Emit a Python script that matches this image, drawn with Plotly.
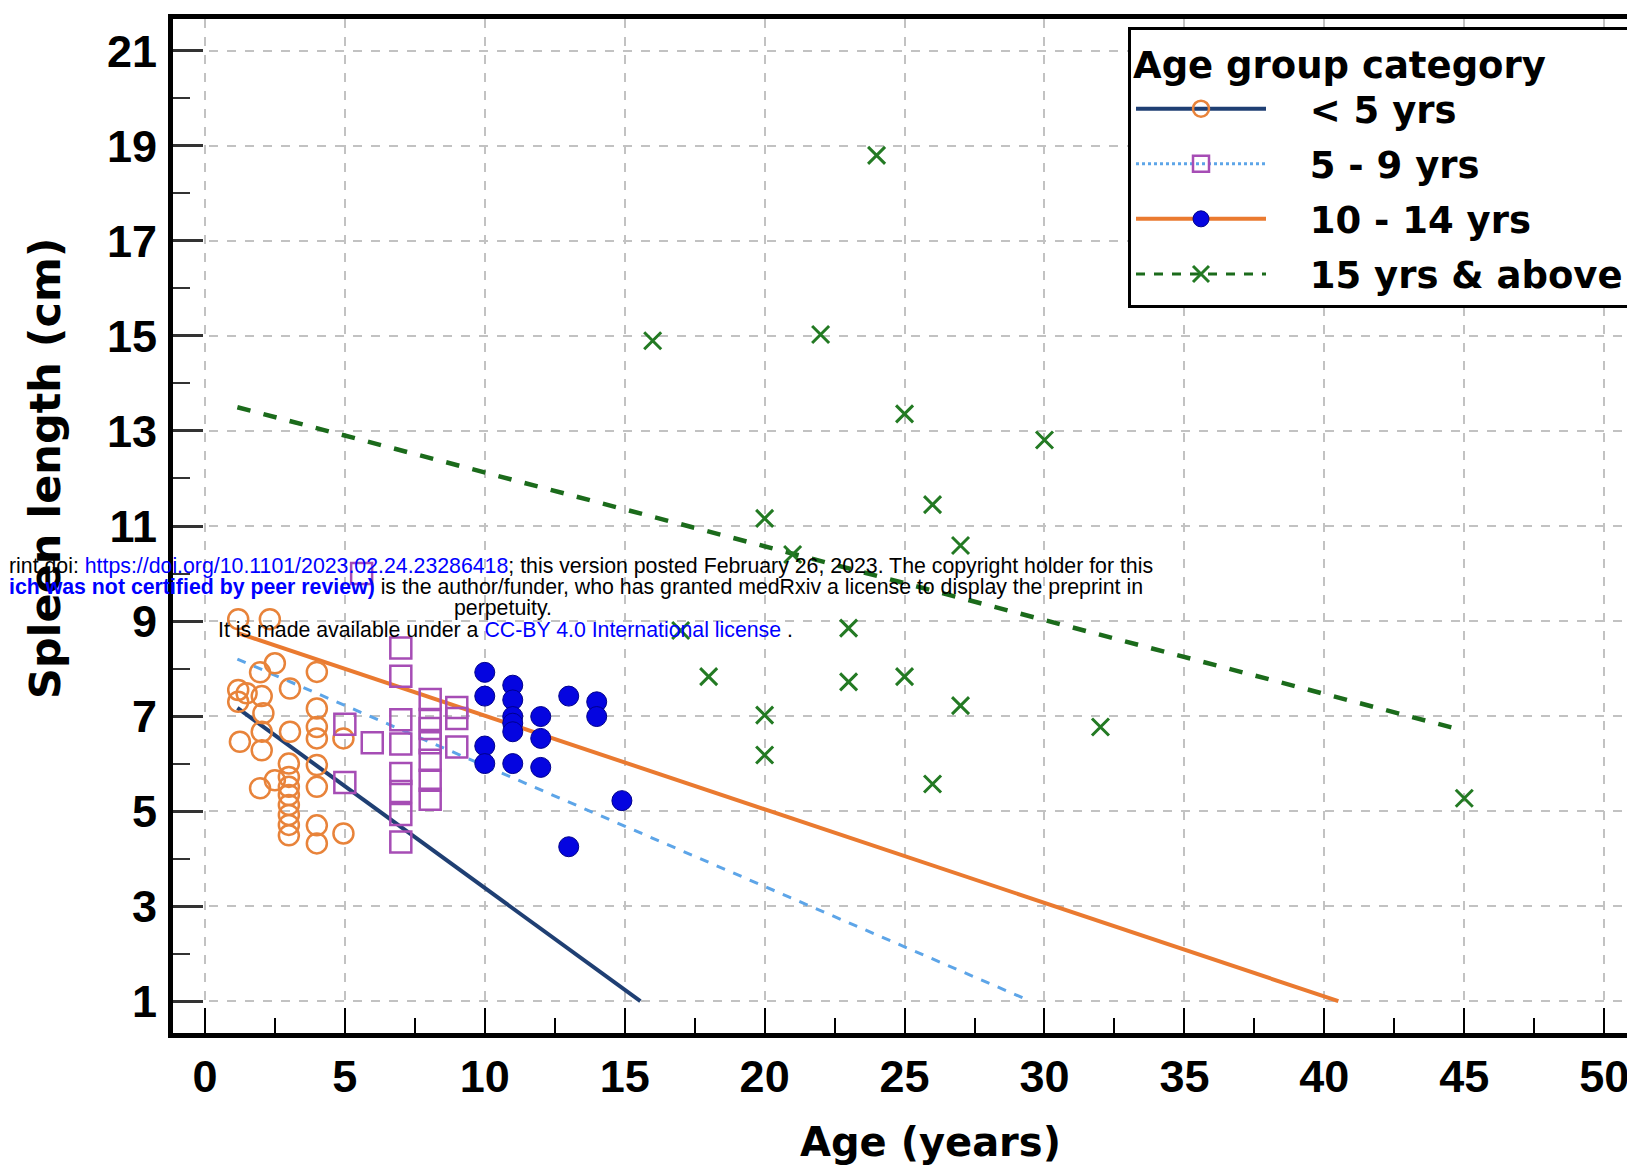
import plotly.graph_objects as go

# ---------------- data ----------------
group_names = ["< 5 yrs", "5 - 9 yrs", "10 - 14 yrs", "15 yrs & above"]

lt5_age = [1.19, 2.32, 2.5, 1.97, 4.0, 3.04, 1.19, 1.49, 2.03, 1.19, 2.09, 2.03, 1.25, 3.04,
           2.03, 3.0, 3.0, 3.0, 3.0, 3.0, 3.0, 3.0, 3.0, 1.97, 2.5, 4.95, 4.0, 4.0, 4.0, 4.0,
           4.0, 4.0, 4.95, 4.0]
lt5_spleen = [9.04, 9.04, 8.11, 7.92, 7.93, 7.58, 7.55, 7.48, 7.42, 7.3, 7.06, 6.67, 6.46, 6.67,
              6.28, 6.0, 5.72, 5.51, 5.34, 5.13, 4.92, 4.71, 4.49, 5.48, 5.65, 4.53, 5.51, 4.7,
              4.32, 6.53, 6.77, 7.16, 6.53, 5.97]

g5_9_age = [5.0, 5.0, 5.98, 5.6, 7.0, 7.0, 7.0, 7.0, 7.0, 7.0, 7.0, 7.0, 8.05, 8.05, 8.05,
            8.05, 8.05, 8.05, 8.05, 9.0, 9.0, 9.0]
g5_9_spleen = [6.83, 5.6, 6.44, 10.0, 8.43, 7.84, 6.92, 6.41, 5.79, 5.41, 4.93, 4.35, 7.35,
               6.93, 6.74, 6.44, 6.07, 5.65, 5.25, 7.18, 6.95, 6.35]

g10_14_age = [10, 10, 10, 10, 11, 11, 11, 11, 11, 11, 12, 12, 12, 13, 13, 14, 14, 14.9]
g10_14_spleen = [7.92, 7.42, 6.37, 6.0, 7.65, 7.34, 6.99, 6.85, 6.67, 6.0, 6.99, 6.53, 5.92,
                 7.42, 4.25, 7.30, 6.99, 5.22]

g15_age = [16, 17, 18, 20, 20, 20, 21, 22, 23, 23, 24, 25, 25, 26, 26, 27, 27, 30, 32, 45]
g15_spleen = [14.9, 8.8, 7.83, 11.16, 7.02, 6.18, 10.4, 15.03, 8.85, 7.72, 18.8, 13.36, 7.83,
              11.45, 5.57, 10.59, 7.22, 12.81, 6.77, 5.27]

# fitted regression lines (start / end points)
fit_lt5_x, fit_lt5_y = [1.16, 15.56], [7.17, 1.0]
fit_5_9_x, fit_5_9_y = [1.16, 29.5], [8.2, 1.0]
fit_10_14_x, fit_10_14_y = [1.16, 40.5], [8.75, 1.0]
fit_15_x, fit_15_y = [1.16, 45.0], [13.5, 6.69]

x_ticks = [0, 5, 10, 15, 20, 25, 30, 35, 40, 45, 50]
y_ticks = [1, 3, 5, 7, 9, 11, 13, 15, 17, 19, 21]

# ---------------- styles ----------------
ORANGE_M = "#E8833A"
PURPLE_M = "#A64DB5"
BLUE_M = "#0505E0"
GREEN_M = "#237A23"
NAVY_L = "#1F3F73"
LBLUE_L = "#5DA5E8"
ORANGE_L = "#EA7A30"
GREEN_L = "#1B6B1B"

TITLE_FONT = "DejaVu Sans"
TICK_FONT = "Liberation Sans"

fig = go.Figure()

# fitted lines
fig.add_trace(go.Scatter(x=fit_lt5_x, y=fit_lt5_y, mode="lines",
                         line=dict(color=NAVY_L, width=4), showlegend=False, hoverinfo="skip"))
fig.add_trace(go.Scatter(x=fit_5_9_x, y=fit_5_9_y, mode="lines",
                         line=dict(color=LBLUE_L, width=3, dash="dash"), showlegend=False, hoverinfo="skip"))
fig.add_trace(go.Scatter(x=fit_10_14_x, y=fit_10_14_y, mode="lines",
                         line=dict(color=ORANGE_L, width=4), showlegend=False, hoverinfo="skip"))
fig.add_trace(go.Scatter(x=fit_15_x, y=fit_15_y, mode="lines",
                         line=dict(color=GREEN_L, width=4.5, dash="dash"), showlegend=False, hoverinfo="skip"))

# scatter points
m_lt5 = dict(symbol="circle-open", size=20, color=ORANGE_M, line=dict(width=2.5, color=ORANGE_M))
m_5_9 = dict(symbol="square-open", size=21, color=PURPLE_M, line=dict(width=2.5, color=PURPLE_M))
m_10_14 = dict(symbol="circle", size=20, color=BLUE_M, line=dict(width=1, color="#00008B"))
m_15 = dict(symbol="x-thin-open", size=17, color=GREEN_M, line=dict(width=3, color=GREEN_M))

fig.add_trace(go.Scatter(x=lt5_age, y=lt5_spleen, mode="markers", marker=m_lt5, showlegend=False))
fig.add_trace(go.Scatter(x=g5_9_age, y=g5_9_spleen, mode="markers", marker=m_5_9, showlegend=False))
fig.add_trace(go.Scatter(x=g10_14_age, y=g10_14_spleen, mode="markers", marker=m_10_14, showlegend=False))
fig.add_trace(go.Scatter(x=g15_age, y=g15_spleen, mode="markers", marker=m_15, showlegend=False))

# legend entries (marker of the group + its fitted line)
leg_lines = [dict(color=NAVY_L, width=4), dict(color=LBLUE_L, width=3, dash="dot"),
             dict(color=ORANGE_L, width=4), dict(color=GREEN_L, width=3, dash="dash")]
leg_markers = [m_lt5, m_5_9, m_10_14, m_15]
NB = "\u00a0\u00a0\u00a0"
for i, name in enumerate(group_names):
    fig.add_trace(go.Scatter(x=[None], y=[None], mode="lines+markers", name=NB + name,
                             line=leg_lines[i], marker=leg_markers[i], legendgroup=f"g{i}"))

# ---------------- layout ----------------
# the page body has an 8px margin, so the figure is drawn 8px in from the top-left corner
OFF = 8
W, H = 1635 - OFF, 1167 - OFF
L, R, T, B = 173 - OFF, 1635 - OFF, 19 - OFF, 1033 - OFF


def pxx(x):
    return (x - OFF - L) / (R - L)


def pxy(y):
    return (B - (y - OFF)) / (B - T)


grid = dict(showgrid=True, gridcolor="#C2C2C2", gridwidth=1.5, griddash="dash")

fig.update_layout(
    width=W, height=H,
    margin=dict(l=L, r=W - R, t=T, b=H - B, autoexpand=False),
    paper_bgcolor="white", plot_bgcolor="white",
    showlegend=True,
    legend=dict(
        x=pxx(1128), y=pxy(27), xanchor="left", yanchor="top",
        bgcolor="white", bordercolor="black", borderwidth=3,
        title=dict(text="Age group category", font=dict(family=TITLE_FONT, size=37, color="black", weight="bold")),
        font=dict(family=TITLE_FONT, size=37, color="black", weight="bold"),
        itemwidth=130, traceorder="grouped", tracegroupgap=4,
    ),
    xaxis=dict(
        range=[-1.14, 51.1], tickvals=x_ticks, ticks="inside", ticklen=25, tickwidth=2,
        tickcolor="black", showline=True, linecolor="black", linewidth=5, mirror=True,
        tickfont=dict(family=TICK_FONT, size=45, color="black", weight="bold"),
        ticklabelstandoff=0, zeroline=False,
        minor=dict(dtick=2.5, tick0=0, ticks="inside", ticklen=15, tickwidth=2, tickcolor="black", showgrid=False),
        **grid,
    ),
    yaxis=dict(
        range=[0.33, 21.67], tickvals=y_ticks, ticks="inside", ticklen=30, tickwidth=3,
        tickcolor="#333333", showline=True, linecolor="black", linewidth=5, mirror=True,
        tickfont=dict(family=TICK_FONT, size=45, color="black", weight="bold"),
        ticklabelstandoff=2, zeroline=False,
        minor=dict(dtick=1, tick0=0, ticks="inside", ticklen=17, tickwidth=2, tickcolor="#333333", showgrid=False),
        **grid,
    ),
)

# axis titles
fig.add_annotation(text="Spleen length (cm)", xref="paper", yref="paper", x=pxx(45), y=pxy(469),
                   textangle=-90, showarrow=False, xanchor="center", yanchor="middle",
                   font=dict(family=TITLE_FONT, size=43, color="black", weight="bold"))
fig.add_annotation(text="Age (years)", xref="paper", yref="paper", x=pxx(930), y=pxy(1142),
                   showarrow=False, xanchor="center", yanchor="middle",
                   font=dict(family=TITLE_FONT, size=40, color="black", weight="bold"))

# medRxiv overlay text
wm_font = dict(family="Liberation Sans", size=21.3, color="black")
BL = "color:#0000FF"
fig.add_annotation(
    text=f"rint doi: <span style='{BL}'>https://doi.org/10.1101/2023.02.24.23286418</span>; this version posted February 26, 2023. The copyright holder for this",
    xref="paper", yref="paper", x=pxx(7), y=pxy(566), xanchor="left", yanchor="middle",
    showarrow=False, font=wm_font)
fig.add_annotation(
    text=f"<b><span style='{BL}'>ich was not certified by peer review)</span></b> is the author/funder, who has granted medRxiv a license to display the preprint in",
    xref="paper", yref="paper", x=pxx(7), y=pxy(587), xanchor="left", yanchor="middle",
    showarrow=False, font=wm_font)
fig.add_annotation(
    text="perpetuity.", xref="paper", yref="paper", x=pxx(503), y=pxy(608),
    xanchor="center", yanchor="middle", showarrow=False, font=wm_font)
fig.add_annotation(
    text=f"It is made available under a <span style='{BL}'>CC-BY 4.0 International license</span> .",
    xref="paper", yref="paper", x=pxx(216), y=pxy(630), xanchor="left", yanchor="middle",
    showarrow=False, font=wm_font)

fig.write_html("out.html")
